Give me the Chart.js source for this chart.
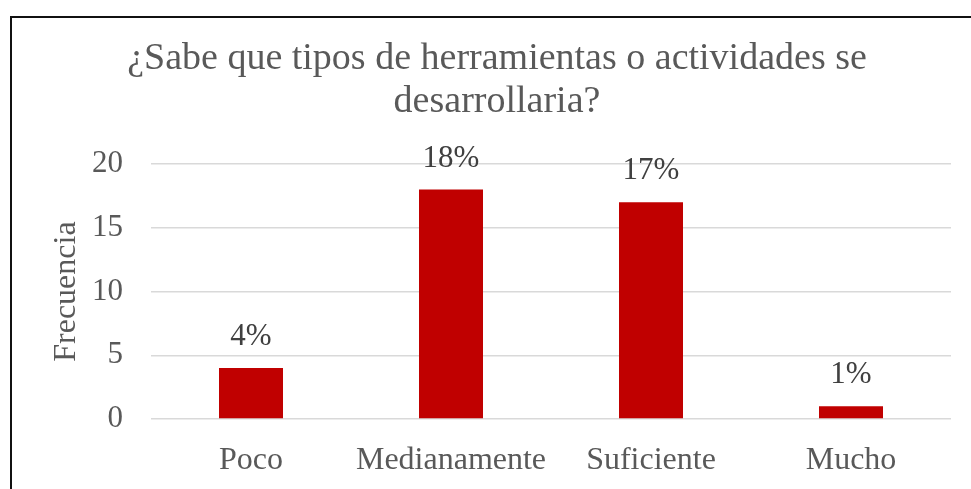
<!DOCTYPE html>
<html>
<head>
<meta charset="utf-8">
<script src="https://cdn.jsdelivr.net/npm/chart.js@4"></script>
<style>
  html, body { margin: 0; padding: 0; background: #fff; }
  #wrap { width: 971px; height: 489px; position: relative; }
</style>
</head>
<body>
<div id="wrap"><canvas id="myChart" width="971" height="489"></canvas></div>
<script>
// data
let categories = ['Poco', 'Medianamente', 'Suficiente', 'Mucho'];
let frecuencia = [4, 18, 17, 1];
let percentLabels = ['4%', '18%', '17%', '1%'];
let yTicks = [0, 5, 10, 15, 20];
let chartTitle = ['¿Sabe que tipos de herramientas o actividades se', 'desarrollaria?'];

const serif = "'Liberation Serif', 'Times New Roman', serif";

// frame line on left and top, like the cropped screenshot
const framePlugin = {
  id: 'frame',
  afterDraw(chart){
    const ctx = chart.ctx;
    ctx.save();
    ctx.strokeStyle = '#111';
    ctx.lineWidth = 2;
    ctx.beginPath();
    ctx.moveTo(11, 489);
    ctx.lineTo(11, 17);
    ctx.lineTo(971, 17);
    ctx.stroke();
    ctx.restore();
  }
};

// percent labels above the bars
const barLabels = {
  id: 'barLabels',
  afterDatasetsDraw(chart){
    const ctx = chart.ctx;
    const meta = chart.getDatasetMeta(0);
    ctx.save();
    ctx.font = '31px ' + serif;
    ctx.fillStyle = '#404040';
    ctx.textAlign = 'center';
    ctx.textBaseline = 'alphabetic';
    meta.data.forEach(function(bar, i){
      ctx.fillText(percentLabels[i], bar.x, bar.y - 23);
    });
    ctx.restore();
  }
};

const ctx = document.getElementById('myChart').getContext('2d');
const barChart = new Chart(ctx, {
  type: 'bar',
  data: {
    labels: categories,
    datasets: [{
      label: 'Frecuencia',
      data: frecuencia,
      backgroundColor: '#C00000',
      borderWidth: 0,
      categoryPercentage: 1,
      barPercentage: 0.32
    }]
  },
  options: {
    responsive: false,
    animation: false,
    layout: { padding: { left: 43, right: 20, top: 0, bottom: 0 } },
    plugins: {
      legend: { display: false },
      tooltip: { enabled: false },
      title: {
        display: true,
        text: chartTitle,
        color: '#595959',
        font: { family: serif, size: 38, weight: 'normal', lineHeight: 1.12 },
        padding: { top: 38, bottom: 41 }
      }
    },
    scales: {
      x: {
        grid: { display: false, drawTicks: false },
        border: { display: false },
        ticks: {
          color: '#595959',
          font: { family: serif, size: 32 },
          padding: 22,
          maxRotation: 0
        },
        afterFit(axis){ axis.height = 70; }
      },
      y: {
        min: 0,
        max: 20,
        afterBuildTicks(axis){ axis.ticks = yTicks.map(v => ({ value: v })); },
        grid: { color: '#d9d9d9', lineWidth: 1.5, drawTicks: false },
        border: { display: false },
        ticks: {
          color: '#595959',
          font: { family: serif, size: 31 },
          padding: 28
        },
        title: {
          display: true,
          text: 'Frecuencia',
          color: '#595959',
          font: { family: serif, size: 32 },
          padding: { top: 4, bottom: 0 }
        },
        afterFit(axis){ axis.width = 108; }
      }
    }
  },
  plugins: [framePlugin, barLabels]
});
</script>
</body>
</html>
